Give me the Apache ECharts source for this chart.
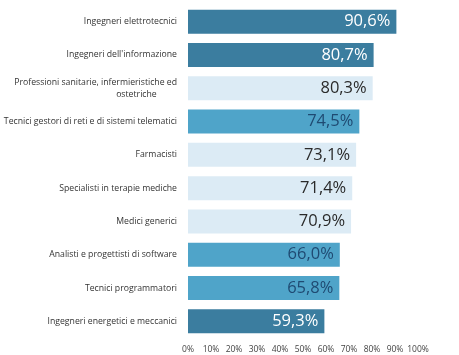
<!DOCTYPE html>
<html><head><meta charset="utf-8">
<script src="https://cdn.jsdelivr.net/npm/echarts@6/dist/echarts.min.js"></script>
<style>html,body{margin:0;padding:0;background:#fff}#c{width:459px;height:355px}</style>
</head><body><div id="c"></div>
<script>
const categories = [
  "Ingegneri elettrotecnici",
  "Ingegneri dell'informazione",
  "Professioni sanitarie, infermieristiche ed\nostetriche",
  "Tecnici gestori di reti e di sistemi telematici",
  "Farmacisti",
  "Specialisti in terapie mediche",
  "Medici generici",
  "Analisti e progettisti di software",
  "Tecnici programmatori",
  "Ingegneri energetici e meccanici"
];
const values = [90.6, 80.7, 80.3, 74.5, 73.1, 71.4, 70.9, 66.0, 65.8, 59.3];
const groups = ["dark","dark","light","mid","light","light","light","mid","mid","dark"];
const xTicks = [0,10,20,30,40,50,60,70,80,90,100];

const fill = {dark:"#3b7d9f", mid:"#4fa4c9", light:"#dcebf5"};
const txt = {dark:"#ffffff", mid:"#1f4a72", light:"#2a2a2a"};

const chart = echarts.init(document.getElementById('c'));
chart.setOption({
  animation:false,
  grid:{left:188,right:41,top:5,bottom:17},
  xAxis:{type:'value',min:0,max:100,interval:10,
    axisLabel:{formatter:v=>v+'%',fontSize:8.5,color:'#444',fontFamily:'Open Sans',margin:7},
    splitLine:{show:false},axisLine:{show:false},axisTick:{show:false}},
  yAxis:{type:'category',inverse:true,data:categories,
    axisLine:{show:false},axisTick:{show:false},
    axisLabel:{fontSize:8.7,color:'#333',fontFamily:'Open Sans',margin:11,align:'right',lineHeight:12,
      formatter:v=>v.replace('\nostetriche','\nostetriche         ')}},
  series:[{type:'bar',barWidth:'72%',
    data:values.map((v,i)=>({value:v,itemStyle:{color:fill[groups[i]]},
      label:{color:txt[groups[i]]}})),
    label:{show:true,position:'insideRight',distance:6,fontSize:16.5,fontFamily:'Open Sans',
      formatter:p=>p.value.toFixed(1).replace('.',',')+'%'}
  }]
});
</script></body></html>
